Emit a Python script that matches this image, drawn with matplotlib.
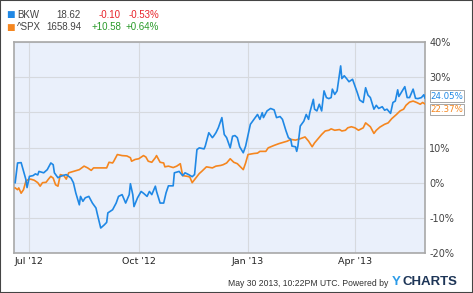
import matplotlib
matplotlib.use("Agg")
import matplotlib.pyplot as plt
import pandas as pd

# day offsets from 2012-07-01 and % change
bkw_days = [-12, -10, -7, -3, -2, 0, 3, 5, 7, 8, 12, 15, 18, 20, 21, 24, 26, 31, 35, 37,
            39, 42, 43, 45, 47, 50, 53, 56, 57, 60, 63, 65, 66, 70, 73, 75, 78, 81, 84, 85,
            87, 88, 91, 94, 96, 99, 101, 103, 106, 107, 110, 113, 115, 117, 121, 122, 126, 129, 131, 134,
            137, 139, 141, 143, 147, 148, 151, 154, 155, 157, 159, 162, 164, 166, 169, 171, 173, 175, 177, 180,
            182, 186, 189, 192, 194, 196, 197, 200, 203, 206, 208, 211, 213, 216, 218, 220, 221, 224, 225, 226,
            228, 231, 233, 235, 236, 239, 240, 242, 244, 246, 248, 250, 252, 254, 255, 257, 259, 262, 263, 265,
            267, 269, 272, 274, 276, 278, 281, 283, 285, 287, 290, 292, 294, 297, 299, 301, 304, 306, 308, 310,
            311, 313, 316, 318, 320, 323, 325, 327, 330, 332, 333]
bkw_pct = [0.0, 5.6, 5.7, 0.9, -1.4, 1.8, 2.0, 2.5, 2.2, 3.2, 2.8, 3.7, 5.6, 5.1, 2.8, 1.4, 1.8, 2.3, 1.3, 0.0,
           -2.9, -6.3, -3.9, -5.3, -4.3, -3.9, -5.8, -7.2, -8.7, -12.9, -12.0, -11.3, -8.6, -7.7, -5.8, -3.9, -3.4, -5.8, -3.4, -0.3,
           -3.4, -6.8, -4.3, -2.5, -3.0, -3.9, -2.5, -3.4, -1.0, -2.5, -5.8, -5.8, -2.9, -0.9, -0.9, 2.8, 3.2, 2.0, 2.8, 2.3,
           1.7, 2.3, 9.4, 9.9, 9.6, 10.4, 14.2, 12.8, 13.2, 14.2, 15.6, 18.5, 13.7, 12.8, 9.9, 13.2, 13.4, 12.8, 10.2, 8.5,
           10.4, 16.6, 18.0, 19.4, 18.0, 19.9, 18.5, 20.4, 21.1, 20.7, 18.5, 18.8, 18.0, 14.7, 12.8, 12.3, 10.4, 10.2, 8.9, 10.4,
           16.1, 17.5, 19.4, 18.0, 19.9, 23.7, 20.9, 20.4, 22.3, 20.4, 26.1, 24.2, 23.9, 24.2, 26.6, 25.1, 26.1, 33.2, 29.6, 30.4,
           29.6, 28.7, 29.4, 27.5, 25.6, 23.5, 22.8, 27.0, 24.9, 24.2, 20.9, 22.0, 21.1, 21.6, 20.6, 20.9, 19.7, 22.8, 23.2, 26.4,
           24.5, 25.6, 27.3, 24.2, 24.2, 26.6, 24.0, 23.9, 24.2, 25.0, 24.05]

spx_days = [-12, -10, -9, -7, -5, -3, -1, 1, 4, 7, 9, 11, 14, 16, 18, 20, 22, 24, 26, 29,
            31, 33, 37, 42, 46, 49, 52, 54, 58, 65, 67, 70, 71, 74, 78, 82, 85, 86, 89, 92,
            96, 98, 100, 103, 106, 107, 110, 113, 114, 117, 121, 124, 127, 129, 133, 135, 137, 140, 143, 145,
            149, 154, 157, 161, 163, 166, 169, 172, 175, 180, 182, 184, 189, 192, 194, 199, 201, 206, 210, 214,
            217, 220, 224, 228, 232, 235, 238, 240, 243, 246, 249, 252, 254, 257, 261, 263, 266, 268, 271, 274,
            277, 281, 283, 287, 290, 292, 295, 299, 302, 305, 309, 312, 315, 317, 320, 323, 326, 329, 331, 333]
spx_pct = [-1.5, -2.0, -1.5, -3.0, -2.0, 0.4, 0.9, 1.0, 0.7, 0.0, -1.0, 0.0, 0.1, 1.0, 1.8, 1.3, -0.6, -1.0, 2.3, 2.0,
           1.0, 2.8, 3.2, 3.7, 4.7, 4.2, 3.5, 4.2, 4.2, 4.2, 5.8, 5.6, 6.1, 8.0, 7.7, 7.6, 7.1, 6.1, 6.6, 6.8,
           7.7, 7.3, 6.1, 5.8, 7.1, 7.7, 5.8, 5.6, 4.5, 4.7, 4.3, 4.7, 5.4, 2.0, 1.8, 1.6, 0.0, 1.3, 2.6, 3.2,
           4.5, 4.2, 4.7, 4.9, 5.1, 5.6, 6.8, 5.8, 5.4, 3.7, 5.6, 8.0, 8.3, 8.4, 8.9, 8.9, 9.9, 10.6, 11.1, 11.5,
           11.8, 12.3, 12.1, 12.5, 13.0, 11.8, 10.2, 11.3, 12.5, 13.7, 14.7, 14.9, 15.3, 14.9, 15.1, 14.7, 14.9, 15.6, 15.9, 15.6,
           14.9, 15.6, 17.0, 15.9, 14.0, 14.9, 15.8, 16.6, 17.0, 18.2, 19.4, 20.4, 20.9, 22.0, 22.9, 23.2, 22.8, 22.3, 22.8, 22.37]

yticks = [-20, -10, 0, 10, 20, 30, 40]
xtick_dates = ["2012-07-01", "2012-10-01", "2013-01-01", "2013-04-01"]
xtick_labels = ["Jul '12", "Oct '12", "Jan '13", "Apr '13"]

blue = "#1f88e5"
orange = "#f5861f"
arial = ["Liberation Sans", "DejaVu Sans"]

base = pd.Timestamp("2012-07-01")
bkw_x = [base + pd.Timedelta(days=d) for d in bkw_days]
spx_x = [base + pd.Timedelta(days=d) for d in spx_days]

fig = plt.figure(figsize=(4.73, 2.93), dpi=100)
ax = fig.add_axes([14 / 473, 1 - 253 / 293, 411 / 473, 211 / 293])
ax.set_facecolor("#eaf0fb")

ax.plot(spx_x, spx_pct, color=orange, lw=1.2, zorder=3)
ax.plot(bkw_x, bkw_pct, color=blue, lw=1.2, zorder=4)

ax.set_xlim(pd.Timestamp("2012-06-18"), pd.Timestamp("2013-05-30"))
ax.set_ylim(-20, 40)
ax.set_yticks(yticks)
# the 20% label sits under the end-value tags in the reference
ax.set_yticklabels(["" if v == 20 else f"{v}%" for v in yticks])
ax.yaxis.tick_right()
ax.set_xticks([pd.Timestamp(d) for d in xtick_dates])
ax.set_xticklabels(xtick_labels)
ax.tick_params(axis="y", length=0, pad=3, labelsize=7, labelcolor="#444444")
ax.tick_params(axis="x", length=0, pad=3, labelsize=6.8, labelcolor="#222222")
ax.grid(True, color="#d6d9de", lw=0.8)
for s in ax.spines.values():
    s.set_color("#a8a8a8")
    s.set_linewidth(1.2)

# end value tags
ax.annotate("24.05%", xy=(1.0, bkw_pct[-1]), xycoords=("axes fraction", "data"),
            xytext=(4, 1.5), textcoords="offset points", fontsize=6.2, color=blue, va="center",
            bbox=dict(boxstyle="square,pad=0.12", fc="white", ec="#999999", lw=0.6), annotation_clip=False)
ax.annotate("22.37%", xy=(1.0, spx_pct[-1]), xycoords=("axes fraction", "data"),
            xytext=(4, -3.8), textcoords="offset points", fontsize=6.2, color=orange, va="center",
            bbox=dict(boxstyle="square,pad=0.12", fc="white", ec="#999999", lw=0.6), annotation_clip=False)

# header legend
rows = [("BKW", "18.62", "-0.10", "-0.53%", blue, "#e8232a"),
        ("^SPX", "1658.94", "+10.58", "+0.64%", orange, "#2a9a2a")]
for i, (name, price, chg, pct, c, cc) in enumerate(rows):
    y = 1 - (15 + 12.5 * i) / 293
    fig.text(6.5 / 473, y, "\u25A0", color=c, fontsize=6.5, va="center")
    fig.text(17 / 473, y, name, color="#444444", fontsize=7, va="center", family=arial)
    fig.text(81 / 473, y, price, color="#444444", fontsize=7, va="center", ha="right", family=arial)
    fig.text(121 / 473, y, chg, color=cc, fontsize=7, va="center", ha="right", family=arial)
    fig.text(159 / 473, y, pct, color=cc, fontsize=7, va="center", ha="right", family=arial)

# footer
fig.text(388 / 473, 1 - 283 / 293, "May 30 2013, 10:22PM UTC. Powered by", fontsize=6.2,
         color="#333333", ha="right", va="center", family=arial)
fig.text(392 / 473, 1 - 282 / 293, "Y", fontsize=9.5, fontweight="bold", color="#2b9be8", va="center", family=arial)
fig.text(402 / 473, 1 - 282 / 293, "CHARTS", fontsize=9.5, fontweight="bold", color="#1d3557", va="center", family=arial)

fig.patches.append(plt.Rectangle((0, 0), 1, 1, transform=fig.transFigure, fill=False,
                                 ec="#444444", lw=1.5))

fig.savefig("out.png", dpi=100)
